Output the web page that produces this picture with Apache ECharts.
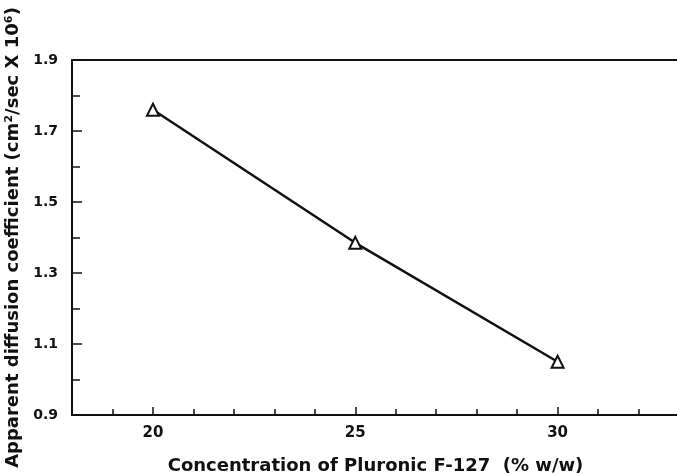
<!DOCTYPE html>
<html>
<head>
<meta charset="utf-8">
<script src="https://cdn.jsdelivr.net/npm/echarts@6/dist/echarts.min.js"></script>
<style>html,body{margin:0;padding:0;background:#fff}#c{width:677px;height:475px}</style>
</head>
<body>
<div id="c"></div>
<script>
const concentration = [20, 25, 30];
const diffusion = [1.76, 1.385, 1.05];
const xTickLabels = [20, 25, 30];
const xMinorTicks = [19, 21, 22, 23, 24, 26, 27, 28, 29, 31, 32];
const yTickLabels = [0.9, 1.1, 1.3, 1.5, 1.7, 1.9];
const yMinorTicks = [1.0, 1.2, 1.4, 1.6, 1.8];

const FONT = 'DejaVu Sans';
const INK = '#111';
const chart = echarts.init(document.getElementById('c'), null, {renderer: 'canvas'});
chart.setOption({
  animation: false,
  backgroundColor: '#fff',
  grid: {left: 72, right: -2, top: 60, bottom: 60, outerBoundsMode: 'none', containLabel: false,
    show: true, borderColor: INK, borderWidth: 2, backgroundColor: 'transparent'},
  xAxis: [{
    type: 'value', min: 18, max: 33,
    name: 'Concentration of Pluronic F-127  (% w/w)',
    nameLocation: 'middle', nameGap: 42,
    nameTextStyle: {fontFamily: FONT, fontWeight: 'bold', fontSize: 18, color: INK},
    axisLine: {show: true, lineStyle: {color: INK, width: 2}},
    axisTick: {show: true, inside: true, length: 6, customValues: xMinorTicks, lineStyle: {color: INK, width: 1.5}},
    axisLabel: {show: true, customValues: xTickLabels, margin: 11, fontFamily: FONT, fontWeight: 'bold', fontSize: 15, color: INK},
    splitLine: {show: false}
  }, {
    type: 'value', min: 18, max: 33, position: 'bottom', offset: 0,
    axisLine: {show: false},
    axisTick: {show: true, inside: true, length: 8, customValues: xTickLabels, lineStyle: {color: INK, width: 1.5}},
    axisLabel: {show: false},
    splitLine: {show: false}
  }],
  yAxis: [{
    type: 'value', min: 0.9, max: 1.9,
    name: 'Apparent diffusion coefficient (cm\u00B2/sec X 10\u2076)',
    nameLocation: 'middle', nameGap: 49, nameRotate: 90,
    nameTextStyle: {fontFamily: FONT, fontWeight: 'bold', fontSize: 18, color: INK},
    axisLine: {show: true, lineStyle: {color: INK, width: 2}},
    axisTick: {show: true, inside: true, length: 8, customValues: yMinorTicks, lineStyle: {color: INK, width: 1.5}},
    axisLabel: {show: true, customValues: yTickLabels, margin: 14, fontFamily: FONT, fontWeight: 'bold', fontSize: 14, color: INK,
      formatter: v => v.toFixed(1)},
    splitLine: {show: false}
  }, {
    type: 'value', min: 0.9, max: 1.9, position: 'left', offset: 0,
    axisLine: {show: false},
    axisTick: {show: true, inside: true, length: 10, customValues: yTickLabels, lineStyle: {color: INK, width: 1.5}},
    axisLabel: {show: false},
    splitLine: {show: false}
  }],
  series: [{
    type: 'line',
    xAxisIndex: 0, yAxisIndex: 0,
    data: concentration.map((x, i) => [x, diffusion[i]]),
    symbol: 'triangle', symbolSize: 12,
    lineStyle: {color: INK, width: 2.5},
    itemStyle: {color: '#fff', borderColor: INK, borderWidth: 2},
    z: 3
  }]
});
</script>
</body>
</html>
